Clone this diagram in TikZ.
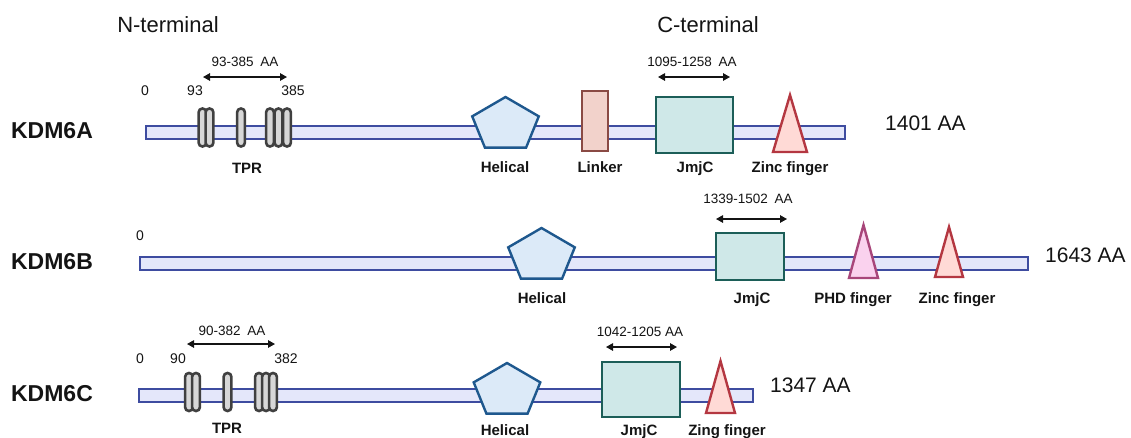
\documentclass[tikz,border=0pt]{standalone}
\usepackage{fontspec}
\setmainfont{Liberation Sans}
\usetikzlibrary{shapes.geometric,arrows.meta}
\definecolor{barfill}{RGB}{228,231,250}
\definecolor{bardraw}{RGB}{62,76,160}
\definecolor{helfill}{RGB}{220,234,248}
\definecolor{heldraw}{RGB}{30,88,142}
\definecolor{linkfill}{RGB}{242,210,203}
\definecolor{linkdraw}{RGB}{138,74,68}
\definecolor{jmjfill}{RGB}{207,232,232}
\definecolor{jmjdraw}{RGB}{28,94,88}
\definecolor{zincfill}{RGB}{255,218,214}
\definecolor{zincdraw}{RGB}{180,55,65}
\definecolor{phdfill}{RGB}{250,210,238}
\definecolor{phddraw}{RGB}{168,70,122}
\definecolor{tprdraw}{RGB}{64,64,64}
\definecolor{tprfill}{RGB}{215,215,215}
\definecolor{txt}{RGB}{20,20,20}
\begin{document}
\begin{tikzpicture}[x=1pt,y=-1pt,
  every node/.style={text=txt},
  bar/.style={draw=bardraw, fill=barfill, line width=2.2pt, minimum height=13pt, inner sep=0pt},
  tpr/.style={draw=tprdraw, fill=tprfill, line width=2.6pt, rounded corners=3.8pt, minimum width=7.8pt, minimum height=38pt, inner sep=0pt},
  helical/.style={regular polygon, regular polygon sides=5, draw=heldraw, fill=helfill, line width=2.4pt, minimum size=70pt, inner sep=0pt},
  linker/.style={draw=linkdraw, fill=linkfill, line width=2pt, inner sep=0pt},
  jmj/.style={draw=jmjdraw, fill=jmjfill, line width=2.6pt, inner sep=0pt},
  zinc/.style={draw=zincdraw, fill=zincfill, line width=2.4pt, line join=miter},
  phd/.style={draw=phddraw, fill=phdfill, line width=2.4pt, line join=miter},
  prot/.style={font=\fontsize{23}{27}\selectfont\bfseries, anchor=base, inner sep=0pt},
  term/.style={font=\fontsize{22}{26}\selectfont, anchor=base, inner sep=0pt},
  len/.style={font=\fontsize{21}{25}\selectfont, anchor=base west, inner sep=0pt},
  dom/.style={font=\fontsize{15}{18}\selectfont\bfseries, anchor=base, inner sep=0pt},
  num/.style={font=\fontsize{14}{17}\selectfont, anchor=base, inner sep=0pt},
  rng/.style={font=\fontsize{13.5}{16}\selectfont, anchor=base, inner sep=0pt},
  span/.style={{Triangle[length=7pt,width=7.5pt]}-{Triangle[length=7pt,width=7.5pt]}, line width=1.3pt, draw=txt}
]
\useasboundingbox (0,0) rectangle (1131,437);

% headings
\node[term] (nterm) at (168,32) {N-terminal};
\node[term] (cterm) at (708,32) {C-terminal};

% ================= KDM6A =================
\node[prot] (kA) at (52,138) {KDM6A};
\node[bar, minimum width=699pt] (barA) at (495.5,132.5) {};
\node[num] (zA) at (145,95) {0};
\node[num] (sA) at (195,95) {93};
\node[num] (eA) at (293,95) {385};
\node[rng] (rA) at (245,66) {93-385\,\,\,AA};
\coordinate (rA1) at (203,77);
\coordinate (rA2) at (287,77);
\draw[span] (rA1) -- (rA2);
\foreach \x/\n in {202.5/a1,209.5/a2,241/a3,270/a4,278.5/a5,287/a6}
  \node[tpr] (tpr\n) at (\x,127.5) {};
\node[dom] (tprlA) at (247,173) {TPR};
\begin{scope}[shift={(505.5,125)},yscale=0.8]
  \node[helical, transform shape] (helA) at (0,0) {};
\end{scope}
\node[dom] (hellA) at (505,172) {Helical};
\node[linker, minimum width=26pt, minimum height=60pt] (linkA) at (595,121) {};
\node[dom] (linklA) at (600,172) {Linker};
\node[jmj, minimum width=77pt, minimum height=56pt] (jmjA) at (694.5,125) {};
\node[dom] (jmjlA) at (695,172) {JmjC};
\node[rng] (rjA) at (692,66) {1095-1258\,\,\,AA};
\coordinate (rjA1) at (658,77);
\coordinate (rjA2) at (730,77);
\draw[span] (rjA1) -- (rjA2);
\coordinate (zA1) at (773,152);
\coordinate (zA2) at (790,95);
\coordinate (zA3) at (807,152);
\draw[zinc] (zA1) -- (zA2) -- (zA3) -- cycle;
\node[dom] (zinclA) at (790,172) {Zinc finger};
\node[len] (lenA) at (885,130) {1401 AA};

% ================= KDM6B =================
\node[prot] (kB) at (52,269) {KDM6B};
\node[bar, minimum width=888pt] (barB) at (584,263.5) {};
\node[num] (zB) at (140,240) {0};
\begin{scope}[shift={(541.5,256)},yscale=0.8]
  \node[helical, transform shape] (helB) at (0,0) {};
\end{scope}
\node[dom] (hellB) at (542,303) {Helical};
\node[jmj, minimum width=68pt, minimum height=47pt] (jmjB) at (750,256.5) {};
\node[dom] (jmjlB) at (752,303) {JmjC};
\node[rng] (rjB) at (748,203) {1339-1502\,\,\,AA};
\coordinate (rjB1) at (716,219);
\coordinate (rjB2) at (787,219);
\draw[span] (rjB1) -- (rjB2);
\coordinate (pB1) at (849,278);
\coordinate (pB2) at (863.5,225);
\coordinate (pB3) at (878,278);
\draw[phd] (pB1) -- (pB2) -- (pB3) -- cycle;
\node[dom] (phdlB) at (853,303) {PHD finger};
\coordinate (zB1) at (935,277);
\coordinate (zB2) at (949,227);
\coordinate (zB3) at (963,277);
\draw[zinc] (zB1) -- (zB2) -- (zB3) -- cycle;
\node[dom] (zinclB) at (957,303) {Zinc finger};
\node[len] (lenB) at (1045,262) {1643 AA};

% ================= KDM6C =================
\node[prot] (kC) at (52,401) {KDM6C};
\node[bar, minimum width=614pt] (barC) at (446,395.5) {};
\node[num] (zC) at (140,363) {0};
\node[num] (sC) at (178,363) {90};
\node[num] (eC) at (286,363) {382};
\node[rng] (rC) at (232,335) {90-382\,\,\,AA};
\coordinate (rC1) at (187,344);
\coordinate (rC2) at (275,344);
\draw[span] (rC1) -- (rC2);
\foreach \x/\n in {189/c1,196/c2,227.5/c3,259/c4,266/c5,273/c6}
  \node[tpr] (tpr\n) at (\x,392) {};
\node[dom] (tprlC) at (227,433) {TPR};
\begin{scope}[shift={(507,391)},yscale=0.8]
  \node[helical, transform shape] (helC) at (0,0) {};
\end{scope}
\node[dom] (hellC) at (505,435) {Helical};
\node[jmj, minimum width=78pt, minimum height=55pt] (jmjC) at (641,389.5) {};
\node[dom] (jmjlC) at (639,435) {JmjC};
\node[rng] (rjC) at (640,336) {1042-1205 AA};
\coordinate (rjC1) at (606,347);
\coordinate (rjC2) at (677,347);
\draw[span] (rjC1) -- (rjC2);
\coordinate (zC1) at (706,413);
\coordinate (zC2) at (720.5,361);
\coordinate (zC3) at (735,413);
\draw[zinc] (zC1) -- (zC2) -- (zC3) -- cycle;
\node[dom] (zinclC) at (727,435) {Zing finger};
\node[len] (lenC) at (770,392) {1347 AA};
\end{tikzpicture}
\end{document}
